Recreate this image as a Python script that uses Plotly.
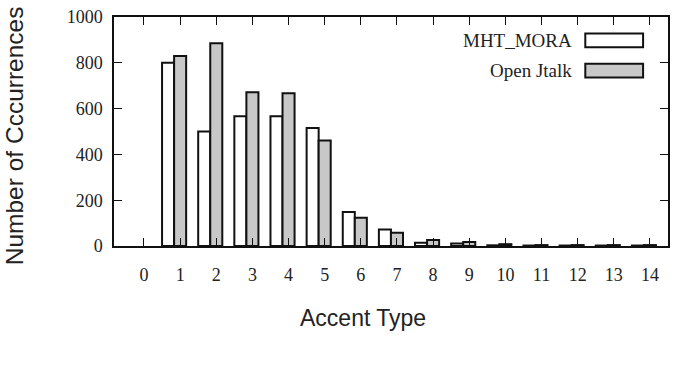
import plotly.graph_objects as go

# ---- data ----
accent_types = list(range(0, 15))
tick_labels = [str(v) for v in accent_types]
mht_mora = [None, 800, 500, 567, 567, 515, 149, 72, 14, 11, 3, 2, 2, 2, 2]
open_jtalk = [None, 830, 885, 671, 667, 461, 123, 58, 26, 18, 8, 4, 4, 4, 4]
series_names = ["MHT_MORA", "Open Jtalk"]
series_fills = ["#ffffff", "#c8c8c8"]

W, H = 677, 369
L, R, T, B = 114, 670, 11, 246  # plot area in pixels


def px_x(x):
    return (x - L) / (R - L)


def px_y(y):
    return (B - y) / (B - T)


serif = "Liberation Serif, Times New Roman, serif"
sans = "Liberation Sans, Arial, sans-serif"

fig = go.Figure()
bw = 1 / 3
for vals, name, fill, off in [
    (mht_mora, series_names[0], series_fills[0], -0.5),
    (open_jtalk, series_names[1], series_fills[1], -0.5 + bw),
]:
    fig.add_trace(go.Bar(
        x=accent_types, y=vals, name=name, width=bw, offset=off,
        marker=dict(color=fill, line=dict(color="#111111", width=2)),
        showlegend=False,
    ))

axis_common = dict(
    showgrid=False, zeroline=False, showline=True, linecolor="#111111",
    linewidth=1.5, mirror="ticks", ticks="inside", ticklen=8,
    tickcolor="#111111", tickwidth=1.2,
    tickfont=dict(family=serif, size=18, color="#222222"),
)

fig.update_layout(
    width=W, height=H,
    margin=dict(l=L, r=W - R, t=T, b=H - B),
    plot_bgcolor="white", paper_bgcolor="white",
    barmode="overlay",
    xaxis=dict(range=[-0.83, 14.5], tickmode="array", tickvals=accent_types,
               ticktext=tick_labels, ticklabelstandoff=12, **axis_common),
    yaxis=dict(range=[0, 1000], tickmode="array",
               tickvals=[0, 200, 400, 600, 800, 1000],
               ticklabelstandoff=6, **axis_common),
)

# axis titles
fig.add_annotation(text="Accent Type", xref="paper", yref="paper",
                   x=px_x(364), y=px_y(320), showarrow=False,
                   font=dict(family=sans, size=23, color="#222222"),
                   xanchor="center", yanchor="middle")
fig.add_annotation(text="Number of Cccurrences", xref="paper", yref="paper",
                   x=px_x(15), y=px_y(133), showarrow=False, textangle=-90,
                   font=dict(family=sans, size=24.5, color="#222222"),
                   xanchor="center", yanchor="middle")

# legend (gnuplot style: text left of sample box)
legend_rows = [(35, series_names[0], series_fills[0]),
               (66, series_names[1], series_fills[1])]
for yc, name, fill in legend_rows:
    fig.add_shape(type="rect", xref="paper", yref="paper",
                  x0=px_x(587), x1=px_x(645), y0=px_y(yc - 7), y1=px_y(yc + 7),
                  fillcolor=fill, line=dict(color="#111111", width=2))
    fig.add_annotation(text=name, xref="paper", yref="paper",
                       x=px_x(576), y=px_y(yc), showarrow=False,
                       xanchor="right", yanchor="middle",
                       font=dict(family=serif, size=19, color="#222222"))

fig.write_html("out.html")
